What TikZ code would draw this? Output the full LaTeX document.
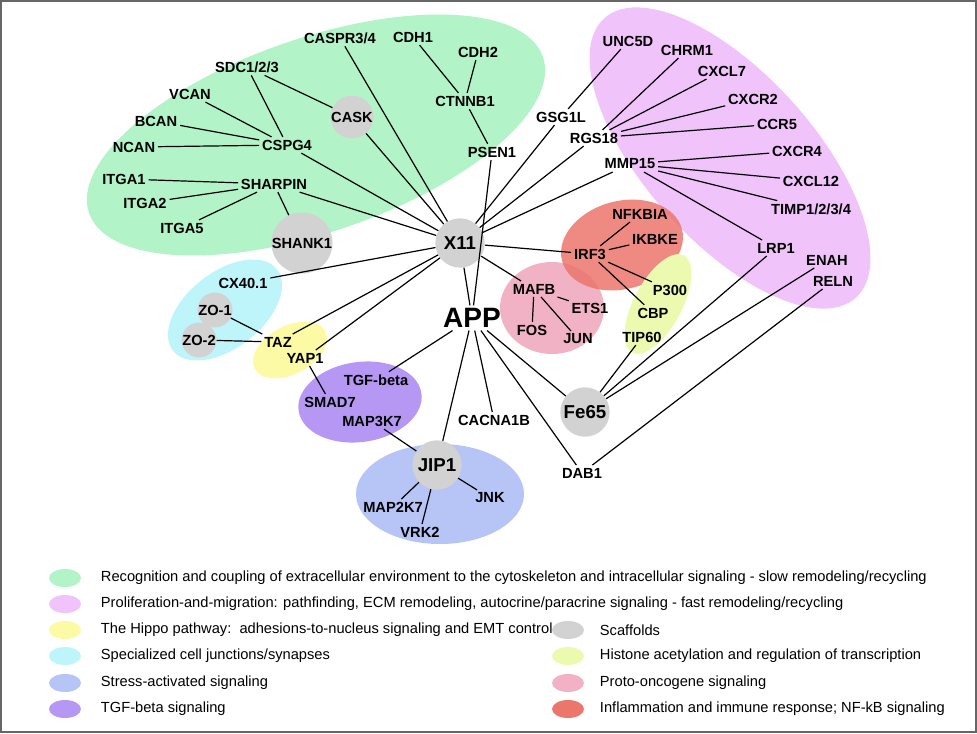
\documentclass[tikz,border=0pt]{standalone}
\usepackage{fontspec}
\setmainfont{Liberation Sans}
\definecolor{recog}{RGB}{178,243,200}
\definecolor{prolif}{RGB}{240,196,250}
\definecolor{hippo}{RGB}{252,250,165}
\definecolor{junct}{RGB}{190,245,250}
\definecolor{stress}{RGB}{182,196,246}
\definecolor{tgfb}{RGB}{182,152,244}
\definecolor{hubgray}{RGB}{210,210,210}
\definecolor{histone}{RGB}{236,250,175}
\definecolor{onco}{RGB}{242,178,198}
\definecolor{inflam}{RGB}{236,118,108}
\usetikzlibrary{positioning}

\begin{document}
\begin{tikzpicture}[x=0.75pt, y=-0.75pt,
  every node/.style={inner sep=2pt, font=\bfseries\fontsize{11}{13}\selectfont},
  hub/.style={circle, fill=hubgray, minimum size=37pt, inner sep=0pt},
  small hub/.style={circle, fill=hubgray, minimum size=25pt, inner sep=0pt},
  link/.style={line width=0.9pt, color=black},
  legtext/.style={anchor=west, font=\fontsize{11}{13}\selectfont}]
\useasboundingbox (0,0) rectangle (977,733);
\draw [line width=1.5pt, color=black!60] (1,1) rectangle (976,732);
% group areas
\fill [recog, rotate around={19:(316,135)}] (316,135) ellipse [x radius=240, y radius=97];
\fill [prolif, rotate around={-48:(730,158)}] (730,158) ellipse [x radius=188, y radius=84];
\fill [onco] (552,308) ellipse [x radius=52, y radius=46];
\fill [inflam, opacity=0.85, rotate around={15:(622,245)}] (622,245) ellipse [x radius=62, y radius=44];
\fill [histone, rotate around={62:(658,304)}] (658,304) ellipse [x radius=55, y radius=24];
\fill [junct, rotate around={38:(225,310)}] (225,310) ellipse [x radius=66, y radius=38];
\fill [hippo, rotate around={28:(290,350)}] (290,350) ellipse [x radius=40, y radius=24];
\fill [tgfb, rotate around={8:(360,402)}] (360,402) ellipse [x radius=62, y radius=40];
\fill [stress] (440,494) ellipse [x radius=84, y radius=50];
% hubs
\node (x11) [hub, font=\bfseries\fontsize{14}{16}\selectfont] at (460,243) {X11};
\node (fe65) [hub, font=\bfseries\fontsize{14}{16}\selectfont] at (585,412) {Fe65};
\node (jip1) [hub, font=\bfseries\fontsize{14}{16}\selectfont] at (437,465) {JIP1};
\node (cask) [small hub, minimum size=32pt] at (352,117) {CASK};
\node (shank1) [hub] at (302,243) {SHANK1};
\node (zo1) [small hub] at (215,310) {ZO-1};
\node (zo2) [small hub] at (199,340) {ZO-2};
\node (app) [font=\bfseries\fontsize{21}{23}\selectfont] at (472,318) {APP};
% genes
\node (caspr) at (340,38) {CASPR3/4};
\node (cdh1) at (413,37) {CDH1};
\node (cdh2) at (478,52) {CDH2};
\node (ctnnb1) at (465,101) {CTNNB1};
\node (psen1) at (492,152) {PSEN1};
\node (sdc) at (247,67) {SDC1/2/3};
\node (vcan) at (190,94) {VCAN};
\node (bcan) at (156,121) {BCAN};
\node (ncan) at (134,147) {NCAN};
\node (cspg4) at (287,145) {CSPG4};
\node (itga1) at (124,179) {ITGA1};
\node (sharpin) at (274,184) {SHARPIN};
\node (itga2) at (145,203) {ITGA2};
\node (itga5) at (182,228) {ITGA5};
\node (unc5d) at (628,41) {UNC5D};
\node (chrm1) at (687,50) {CHRM1};
\node (cxcl7) at (722,71) {CXCL7};
\node (cxcr2) at (753,99) {CXCR2};
\node (ccr5) at (777,124) {CCR5};
\node (cxcr4) at (797,151) {CXCR4};
\node (cxcl12) at (811,181) {CXCL12};
\node (timp) at (811,209) {TIMP1/2/3/4};
\node (lrp1) at (776,248) {LRP1};
\node (enah) at (827,260) {ENAH};
\node (reln) at (833,281) {RELN};
\node (gsg1l) at (561,117) {GSG1L};
\node (rgs18) at (594,138) {RGS18};
\node (mmp15) at (630,164) {MMP15};
\node (nfkbia) at (640,214) {NFKBIA};
\node (ikbke) at (655,239) {IKBKE};
\node (irf3) at (590,254) {IRF3};
\node (p300) at (670,290) {P300};
\node (cbp) at (653,313) {CBP};
\node (tip60) at (642,337) {TIP60};
\node (mafb) at (534,289) {MAFB};
\node (ets1) at (590,308) {ETS1};
\node (fos) at (532,330) {FOS};
\node (jun) at (578,339) {JUN};
\node (cx40) at (243,283) {CX40.1};
\node (taz) at (278,342) {TAZ};
\node (yap1) at (305,358) {YAP1};
\node (tgfbeta) at (376,380) {TGF-beta};
\node (smad7) at (330,402) {SMAD7};
\node (map3k7) at (372,421) {MAP3K7};
\node (cacna1b) at (494,420) {CACNA1B};
\node (dab1) at (582,473) {DAB1};
\node (map2k7) at (393,507) {MAP2K7};
\node (jnk) at (490,498) {JNK};
\node (vrk2) at (420,532) {VRK2};
% links
\draw [link] (cdh1) to (ctnnb1);
\draw [link] (cdh2) to (ctnnb1);
\draw [link] (ctnnb1) to (psen1);
\draw [link] (psen1) to (app);
\draw [link] (sdc) to (cspg4);
\draw [link] (sdc) to (cask);
\draw [link] (vcan) to (cspg4);
\draw [link] (bcan) to (cspg4);
\draw [link] (ncan) to (cspg4);
\draw [link] (itga1) to (sharpin);
\draw [link] (itga2) to (sharpin);
\draw [link] (itga5) to (sharpin);
\draw [link] (sharpin) to (shank1);
\draw [link] (x11) to (cask);
\draw [link] (x11) to (caspr);
\draw [link] (x11) to (cspg4);
\draw [link] (x11) to (sharpin);
\draw [link] (x11) to (gsg1l);
\draw [link] (x11) to (rgs18);
\draw [link] (x11) to (mmp15);
\draw [link] (x11) to (irf3);
\draw [link] (x11) to (mafb);
\draw [link] (x11) to (cx40);
\draw [link] (x11) to (taz);
\draw [link] (x11) to (yap1);
\draw [link] (x11) to (app);
\draw [link] (gsg1l) to (unc5d);
\draw [link] (rgs18) to (chrm1);
\draw [link] (rgs18) to (cxcl7);
\draw [link] (rgs18) to (cxcr2);
\draw [link] (rgs18) to (ccr5);
\draw [link] (mmp15) to (cxcr4);
\draw [link] (mmp15) to (cxcl12);
\draw [link] (mmp15) to (timp);
\draw [link] (mmp15) to (lrp1);
\draw [link] (irf3) to (nfkbia);
\draw [link] (irf3) to (ikbke);
\draw [link] (irf3) to (p300);
\draw [link] (irf3) to (cbp);
\draw [link] (mafb) to (ets1);
\draw [link] (mafb) to (fos);
\draw [link] (mafb) to (jun);
\draw [link] (fe65) to (tip60);
\draw [link] (fe65) to (lrp1);
\draw [link] (fe65) to (enah);
\draw [link] (dab1) to (reln);
\draw [link] (app) to (fe65);
\draw [link] (app) to (dab1);
\draw [link] (app) to (cacna1b);
\draw [link] (app) to (jip1);
\draw [link] (app) to (tgfbeta);
\draw [link] (taz) to (zo1);
\draw [link] (taz) to (zo2);
\draw [link] (yap1) to (smad7);
\draw [link] (map3k7) to (jip1);
\draw [link] (jip1) to (map2k7);
\draw [link] (jip1) to (vrk2);
\draw [link] (jip1) to (jnk);
% legend
\fill [recog] (65,578) ellipse [x radius=16, y radius=9];
\fill [prolif] (65,604) ellipse [x radius=16, y radius=9];
\fill [hippo] (65,630) ellipse [x radius=16, y radius=9];
\fill [junct] (65,656) ellipse [x radius=16, y radius=9];
\fill [stress] (65,683) ellipse [x radius=16, y radius=9];
\fill [tgfb] (65,709) ellipse [x radius=16, y radius=9];
\fill [hubgray] (568,630) ellipse [x radius=16, y radius=9];
\fill [histone] (568,656) ellipse [x radius=16, y radius=9];
\fill [onco] (568,683) ellipse [x radius=16, y radius=9];
\fill [inflam] (568,709) ellipse [x radius=16, y radius=9];
\node (l1) [legtext] at (98,578) {Recognition and coupling of extracellular environment to the cytoskeleton and intracellular signaling - slow remodeling/recycling};
\node (l2) [legtext] at (98,604) {Proliferation-and-migration: pathfinding, ECM remodeling, autocrine/paracrine signaling - fast remodeling/recycling};
\node (l3) [legtext] at (98,630) {The Hippo pathway:\ \ adhesions-to-nucleus signaling and EMT control};
\node (l4) [legtext] at (98,656) {Specialized cell junctions/synapses};
\node (l5) [legtext] at (98,683) {Stress-activated signaling};
\node (l6) [legtext] at (98,709) {TGF-beta signaling};
\node (l7) [legtext] at (597,630) {Scaffolds};
\node (l8) [legtext] at (597,656) {Histone acetylation and regulation of transcription};
\node (l9) [legtext] at (597,683) {Proto-oncogene signaling};
\node (l10) [legtext] at (597,709) {Inflammation and immune response; NF-kB signaling};
\end{tikzpicture}
\end{document}
